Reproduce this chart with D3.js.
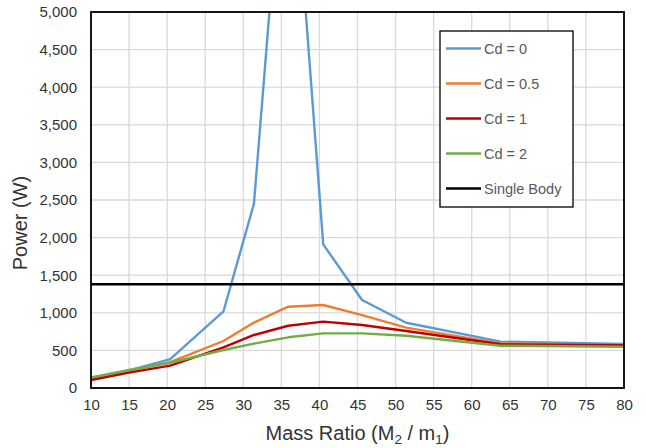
<!DOCTYPE html>
<html>
<head>
<meta charset="utf-8">
<script src="https://cdn.jsdelivr.net/npm/d3@7"></script>
<style>
  html, body { margin: 0; padding: 0; background: #fff; }
  svg { display: block; font-family: "Liberation Sans", Arial, sans-serif; }
</style>
</head>
<body>
<svg id="chart" width="646" height="448"></svg>
<script>
// Mass ratio samples and the power output for each drag coefficient
const massRatio = [10, 15, 20.4, 27.4, 31.4, 35.9, 40.5, 45.6, 51.4, 63.8, 80];
const powerCd0  = [140, 235, 385, 1020, 2450, 8100, 1910, 1170, 868, 616, 585];
const powerCd05 = [125, 225, 345, 625, 870, 1081, 1104, 970, 802, 594, 575];
const powerCd1  = [106, 204, 297, 541, 705, 828, 882, 838, 758, 581, 568];
const powerCd2  = [137, 239, 336, 505, 590, 674, 727, 727, 695, 562, 549];
const singleBodyPower = 1380;

const xTicks = [10, 15, 20, 25, 30, 35, 40, 45, 50, 55, 60, 65, 70, 75, 80];
const yTicks = [0, 500, 1000, 1500, 2000, 2500, 3000, 3500, 4000, 4500, 5000];

const seriesNames  = ["Cd = 0", "Cd = 0.5", "Cd = 1", "Cd = 2"];
const seriesValues = [powerCd0, powerCd05, powerCd1, powerCd2];
const seriesColors = ["#5B9BD5", "#ED7D31", "#C00000", "#70AD47"];

const plot = { left: 91, right: 624, top: 12, bottom: 388 };

const svg = d3.select("#chart");
const x = d3.scaleLinear().domain([10, 80]).range([plot.left, plot.right]);
const y = d3.scaleLinear().domain([0, 5000]).range([plot.bottom, plot.top]);

svg.append("defs").append("clipPath").attr("id", "plot-clip")
  .append("rect")
  .attr("x", plot.left).attr("y", plot.top)
  .attr("width", plot.right - plot.left).attr("height", plot.bottom - plot.top);

// Gridlines
const grid = svg.append("g").attr("stroke", "#d9d9d9").attr("stroke-width", 1.3);
grid.selectAll("line.v").data(xTicks).join("line")
  .attr("x1", d => x(d)).attr("x2", d => x(d))
  .attr("y1", plot.top).attr("y2", plot.bottom);
grid.selectAll("line.h").data(yTicks).join("line")
  .attr("x1", plot.left).attr("x2", plot.right)
  .attr("y1", d => y(d)).attr("y2", d => y(d));

// Axes (labels only; the frame is drawn separately)
const xAxis = svg.append("g").attr("transform", `translate(0,${plot.bottom})`)
  .call(d3.axisBottom(x).tickValues(xTicks).tickSize(0).tickPadding(11).tickFormat(d3.format("d")));
const yAxis = svg.append("g").attr("transform", `translate(${plot.left},0)`)
  .call(d3.axisLeft(y).tickValues(yTicks).tickSize(0).tickPadding(14).tickFormat(d3.format(",")));
[xAxis, yAxis].forEach(a => {
  a.select(".domain").remove();
  a.selectAll("text").attr("font-size", 15).attr("fill", "#333")
    .attr("font-family", "'Liberation Sans', Arial, sans-serif");
});

// Series lines
const line = d3.line().x((d, i) => x(massRatio[i])).y(d => y(d));
const lines = svg.append("g").attr("clip-path", "url(#plot-clip)");
seriesValues.forEach((vals, k) => {
  lines.append("path").datum(vals)
    .attr("d", line)
    .attr("fill", "none")
    .attr("stroke", seriesColors[k])
    .attr("stroke-width", 2.4)
    .attr("stroke-linejoin", "round")
    .attr("stroke-linecap", "round");
});

// Single body reference
svg.append("line")
  .attr("x1", plot.left).attr("x2", plot.right)
  .attr("y1", y(singleBodyPower)).attr("y2", y(singleBodyPower))
  .attr("stroke", "#000").attr("stroke-width", 2.4);

// Plot frame
svg.append("rect")
  .attr("x", plot.left).attr("y", plot.top)
  .attr("width", plot.right - plot.left).attr("height", plot.bottom - plot.top)
  .attr("fill", "none").attr("stroke", "#000").attr("stroke-width", 1.8);

// Axis titles
const xTitle = svg.append("text")
  .attr("x", (plot.left + plot.right) / 2).attr("y", 440)
  .attr("text-anchor", "middle").attr("font-size", 20).attr("fill", "#333");
xTitle.append("tspan").text("Mass Ratio (M");
xTitle.append("tspan").attr("font-size", 13.5).attr("dy", 4).text("2");
xTitle.append("tspan").attr("dy", -4).text(" / m");
xTitle.append("tspan").attr("font-size", 13.5).attr("dy", 4).text("1");
xTitle.append("tspan").attr("dy", -4).text(")");

svg.append("text")
  .attr("transform", "translate(27,223) rotate(-90)")
  .attr("text-anchor", "middle").attr("font-size", 20).attr("fill", "#333")
  .text("Power (W)");

// Legend
const legend = svg.append("g");
legend.append("rect")
  .attr("x", 440).attr("y", 31).attr("width", 133).attr("height", 176)
  .attr("fill", "#fff").attr("stroke", "#000").attr("stroke-width", 1.3);
const legendNames = seriesNames.concat(["Single Body"]);
const legendColors = seriesColors.concat(["#000"]);
legendNames.forEach((name, i) => {
  const ly = 48.5 + i * 35;
  legend.append("line")
    .attr("x1", 446).attr("x2", 481).attr("y1", ly).attr("y2", ly)
    .attr("stroke", legendColors[i]).attr("stroke-width", 2.4);
  legend.append("text")
    .attr("x", 484).attr("y", ly).attr("dy", "0.35em")
    .attr("font-size", 14.5).attr("fill", "#595959").text(name);
});
</script>
</body>
</html>
